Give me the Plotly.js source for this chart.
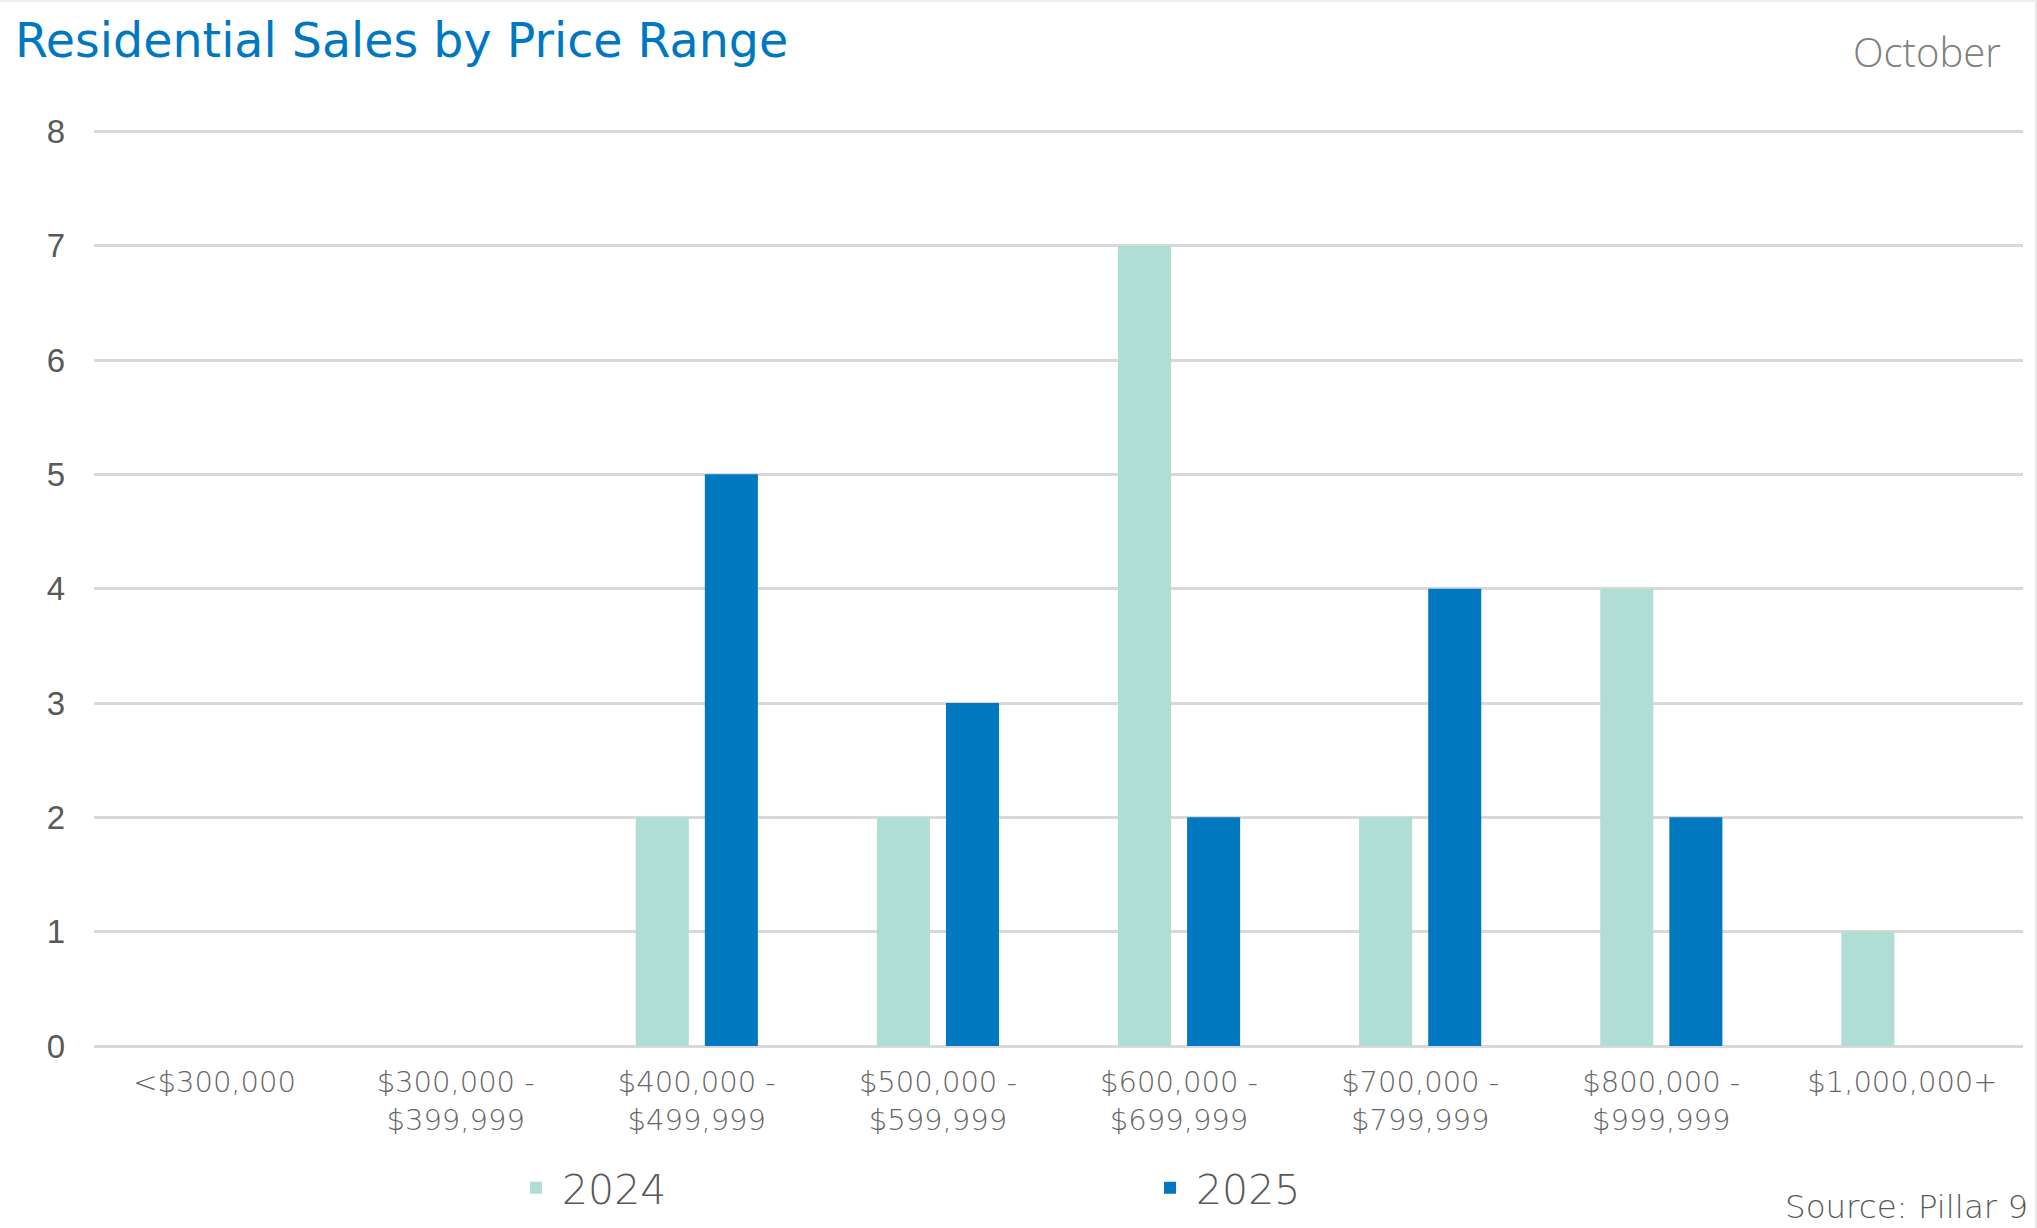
<!DOCTYPE html>
<html>
<head>
<meta charset="utf-8">
<script src="https://cdn.plot.ly/plotly-3.0.1.min.js"></script>
<style>
  html, body { margin: 0; padding: 0; background: #fff; }
  #chart { width: 2037px; height: 1228px; }
  #frame { position: absolute; left: 0; top: 0; width: 2037px; height: 1228px;
           box-sizing: border-box; border-top: 2px solid #eeeeee; border-right: 2px solid #e6e6e6;
           pointer-events: none; }
</style>
</head>
<body>
<div id="chart"></div>
<div id="frame"></div>
<script>
// ---- data ----
const categories = [
  "<$300,000",
  "$300,000 -<br>$399,999",
  "$400,000 -<br>$499,999",
  "$500,000 -<br>$599,999",
  "$600,000 -<br>$699,999",
  "$700,000 -<br>$799,999",
  "$800,000 -<br>$999,999",
  "$1,000,000+"
];
const sales2024 = [0, 0, 2, 2, 7, 2, 4, 1];
const sales2025 = [0, 0, 5, 3, 2, 4, 2, 0];
const seriesNames = ["2024", "2025"];
const yTicks = [0, 1, 2, 3, 4, 5, 6, 7, 8];

const COLOR_2024 = "#B0DED4";
const COLOR_2025 = "#0079C1";
const GOTHAM = "DejaVu Sans, Verdana, sans-serif";

const traces = [
  {
    type: "bar", name: seriesNames[0], x: categories, y: sales2024,
    marker: { color: COLOR_2024, line: { width: 0 } },
    hoverinfo: "x+y+name"
  },
  {
    type: "bar", name: seriesNames[1], x: categories, y: sales2025,
    marker: { color: COLOR_2025, line: { width: 0 } },
    hoverinfo: "x+y+name"
  }
];

const layout = {
  width: 2037, height: 1228,
  paper_bgcolor: "#ffffff", plot_bgcolor: "#ffffff",
  margin: { l: 94, r: 14, t: 130, b: 182, pad: 0, autoexpand: false },
  barmode: "group",
  bargap: 0.427,
  bargroupgap: 0.232,
  title: {
    text: "Residential Sales by Price Range",
    font: { family: GOTHAM, size: 47.5, color: "#0078C1" },
    xref: "container", yref: "container",
    x: 15 / 2037, xanchor: "left",
    y: 1 - 40 / 1228, yanchor: "middle"
  },
  xaxis: {
    type: "category",
    tickvals: categories,
    ticktext: categories,
    tickfont: { family: GOTHAM, size: 29, color: "#666666", weight: 200 },
    showgrid: false, zeroline: false,
    showline: false, ticks: "",
    ticklabelstandoff: 16,
    fixedrange: true
  },
  yaxis: {
    range: [0, 8.012],
    tickvals: yTicks,
    ticktext: yTicks.map(String),
    tickfont: { family: "Liberation Sans, Arial, sans-serif", size: 33, color: "#595959" },
    showgrid: true, gridcolor: "#D9D9D9", gridwidth: 2.5,
    zeroline: true, zerolinecolor: "#D9D9D9", zerolinewidth: 2.5,
    showline: false, ticks: "",
    ticklabelstandoff: 28,
    fixedrange: true
  },
  showlegend: true,
  legend: {
    orientation: "h",
    x: (510 - 94) / 1929, xanchor: "left",
    y: (1046 - 1188) / 916, yanchor: "middle",
    entrywidth: 577, entrywidthmode: "pixels",
    itemwidth: 42,
    font: { family: GOTHAM, size: 41, color: "#595959", weight: 200 },
    bgcolor: "rgba(0,0,0,0)",
    traceorder: "normal"
  },
  annotations: [
    {
      text: "October", showarrow: false,
      xref: "paper", yref: "paper",
      x: (2003 - 94) / 1929, xanchor: "right",
      y: (1046 - 52) / 916, yanchor: "middle",
      font: { family: "Open Sans, Lato, sans-serif", size: 40, color: "#808080", weight: 300 }
    },
    {
      text: "Source: Pillar 9", showarrow: false,
      xref: "paper", yref: "paper",
      x: (2030 - 94) / 1929, xanchor: "right",
      y: (1046 - 1207) / 916, yanchor: "middle",
      font: { family: GOTHAM, size: 32.5, color: "#595959", weight: 200 }
    }
  ]
};

Plotly.newPlot("chart", traces, layout, { displayModeBar: false, responsive: false });
</script>
</body>
</html>
